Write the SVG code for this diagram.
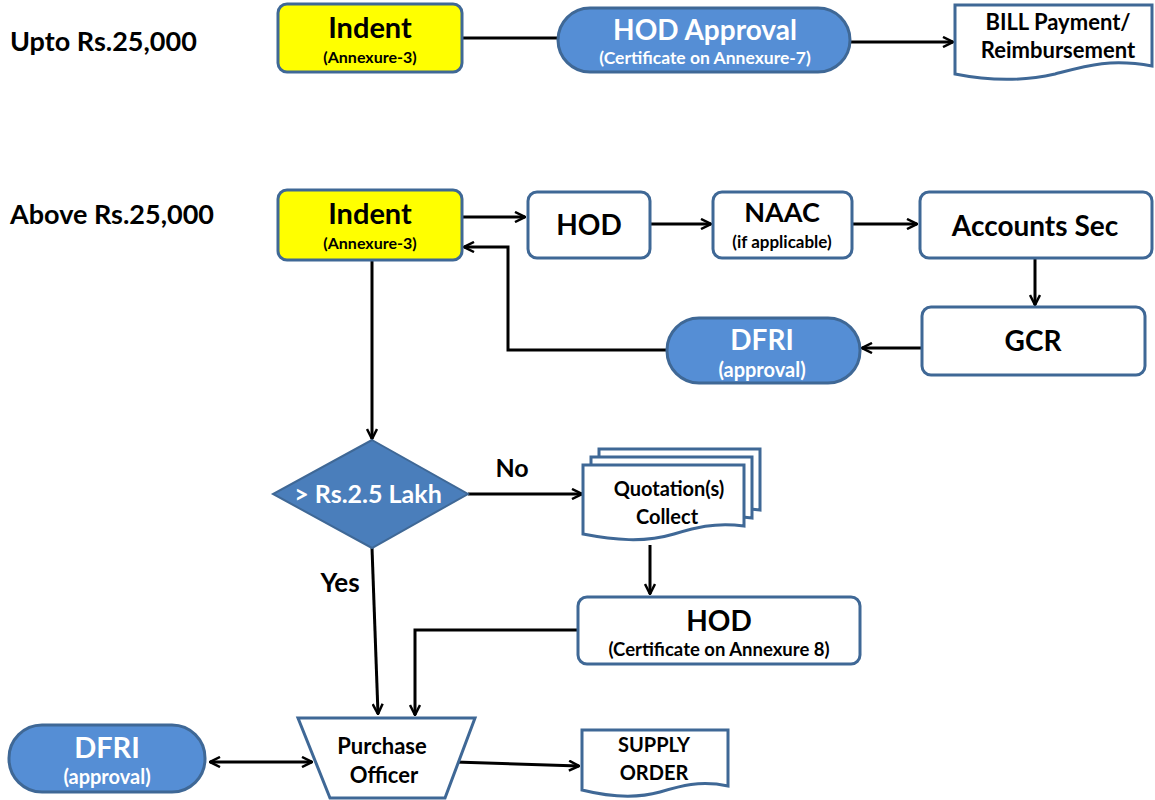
<svg xmlns="http://www.w3.org/2000/svg" width="1155" height="800" viewBox="0 0 1155 800">
<defs>
<marker id="arr" viewBox="0 0 12 12" refX="11" refY="6" markerWidth="12" markerHeight="12" markerUnits="userSpaceOnUse" orient="auto-start-reverse">
<path d="M1,1 L11,6 L1,11" fill="none" stroke="#000" stroke-width="2.5"/>
</marker>
<style>
.box{fill:#fff;stroke:#3F6896;stroke-width:3}
.yel{fill:#FFFF00;stroke:#3F6896;stroke-width:3}
.blu{fill:#558ED5;stroke:#3F6896;stroke-width:3}
.dia{fill:#4A7EBB;stroke:#3F6896;stroke-width:2}
.ln{fill:none;stroke:#000;stroke-width:3}
text{font-family:Lato,"Open Sans","Liberation Sans",sans-serif;font-weight:bold;text-anchor:middle;fill:#000}
.w{fill:#fff}
.big{font-size:28px}
.md{font-size:20px}
.sm{font-size:16px}
.lbl{font-size:27px;text-anchor:start}
</style>
</defs>

<text class="lbl" x="10" y="51">Upto Rs.25,000</text>
<text class="lbl" x="10" y="224">Above Rs.25,000</text>

<g id="connectors">
<path class="ln" d="M462,38 H558"/>
<path class="ln" d="M850,42 H953" marker-end="url(#arr)"/>
<path class="ln" d="M462,217 H525" marker-end="url(#arr)"/>
<path class="ln" d="M650,224 H711" marker-end="url(#arr)"/>
<path class="ln" d="M852,224 H917" marker-end="url(#arr)"/>
<path class="ln" d="M1035,258 V305" marker-end="url(#arr)"/>
<path class="ln" d="M922,348 H862" marker-end="url(#arr)"/>
<path class="ln" d="M667,350 H508 V247 H464" marker-end="url(#arr)"/>
<path class="ln" d="M372,260 V439" marker-end="url(#arr)"/>
<path class="ln" d="M468,494 H582" marker-end="url(#arr)"/>
<path class="ln" d="M650,545 V594" marker-end="url(#arr)"/>
<path class="ln" d="M578,630 H415 V715" marker-end="url(#arr)"/>
<path class="ln" d="M372,548 L378,714" marker-end="url(#arr)"/>
<path class="ln" d="M210,762 H312" marker-start="url(#arr)" marker-end="url(#arr)"/>
<path class="ln" d="M455,762 L579,766" marker-end="url(#arr)"/>
<text x="512" y="477" style="font-size:25px">No</text>
<text x="340" y="592" style="font-size:26px">Yes</text>
</g>

<g id="indent1">
<rect class="yel" x="278" y="4" width="184" height="68" rx="9"/>
<text x="370" y="38" style="font-size:29px">Indent</text>
<text class="sm" x="370" y="63">(Annexure-3)</text>
</g>
<g id="hodApproval">
<rect class="blu" x="558" y="8" width="292" height="64" rx="32"/>
<text class="big w" x="705" y="40">HOD Approval</text>
<text class="w" x="705" y="64" style="font-size:17.5px">(Certificate on Annexure-7)</text>
</g>
<g id="bill">
<path class="box" d="M955,5 H1152 V66 C1110,58 1085,66 1055,74 C1020,82 985,80 955,74 Z"/>
<text x="1058" y="30" style="font-size:22px">BILL Payment/</text>
<text x="1058" y="58" style="font-size:22px">Reimbursement</text>
</g>

<g id="indent2">
<rect class="yel" x="278" y="190" width="184" height="70" rx="9"/>
<text x="370" y="224" style="font-size:29px">Indent</text>
<text class="sm" x="370" y="249">(Annexure-3)</text>
</g>
<g id="hod1">
<rect class="box" x="528" y="192" width="122" height="66" rx="9"/>
<text class="big" x="589" y="235">HOD</text>
</g>
<g id="naac">
<rect class="box" x="713" y="192" width="139" height="66" rx="9"/>
<text x="782" y="222" style="font-size:27px">NAAC</text>
<text x="782" y="248" style="font-size:17px">(if applicable)</text>
</g>
<g id="accounts">
<rect class="box" x="920" y="192" width="232" height="66" rx="9"/>
<text class="big" x="1035" y="236">Accounts Sec</text>
</g>
<g id="gcr">
<rect class="box" x="922" y="307" width="223" height="68" rx="9"/>
<text class="big" x="1033" y="351">GCR</text>
</g>
<g id="dfri1">
<rect class="blu" x="667" y="318" width="193" height="65" rx="32"/>
<text class="big w" x="762" y="350">DFRI</text>
<text class="w" x="762" y="377" style="font-size:20px">(approval)</text>
</g>

<g id="decision">
<path class="dia" d="M372,440 L468,494 L372,548 L273,494 Z"/>
<text class="w" x="368" y="503" style="font-size:25px">&gt; Rs.2.5 Lakh</text>
</g>
<g id="quotations">
<path class="box" d="M599,449 H760 V510 C730,506 710,512 690,518 C660,527 630,524 599,518 Z"/>
<path class="box" d="M591,457 H752 V518 C722,514 702,520 682,526 C652,535 622,532 591,526 Z"/>
<path class="box" d="M583,465 H744 V526 C714,522 694,528 674,534 C644,543 614,540 583,534 Z"/>
<text x="669" y="496" style="font-size:20px">Quotation(s)</text>
<text x="667" y="524" style="font-size:20px">Collect</text>
</g>
<g id="hod2">
<rect class="box" x="578" y="597" width="282" height="67" rx="9"/>
<text class="big" x="719" y="631">HOD</text>
<text x="719" y="656" style="font-size:18.5px">(Certificate on Annexure 8)</text>
</g>

<g id="dfri2">
<rect class="blu" x="9" y="725" width="196" height="67" rx="33"/>
<text class="w" x="107" y="758" style="font-size:29px">DFRI</text>
<text class="w" x="107" y="784" style="font-size:20px">(approval)</text>
</g>
<g id="purchase">
<path class="box" d="M298,718 H475 L445,798 H330 Z"/>
<text x="382" y="754" style="font-size:22px">Purchase</text>
<text x="384" y="783" style="font-size:22px">Officer</text>
</g>
<g id="supply">
<path class="box" d="M582,730 H728 V786 C700,780 680,786 660,792 C635,799 610,797 582,790 Z"/>
<text x="654" y="752" style="font-size:20px">SUPPLY</text>
<text x="654" y="780" style="font-size:20px">ORDER</text>
</g>
</svg>
